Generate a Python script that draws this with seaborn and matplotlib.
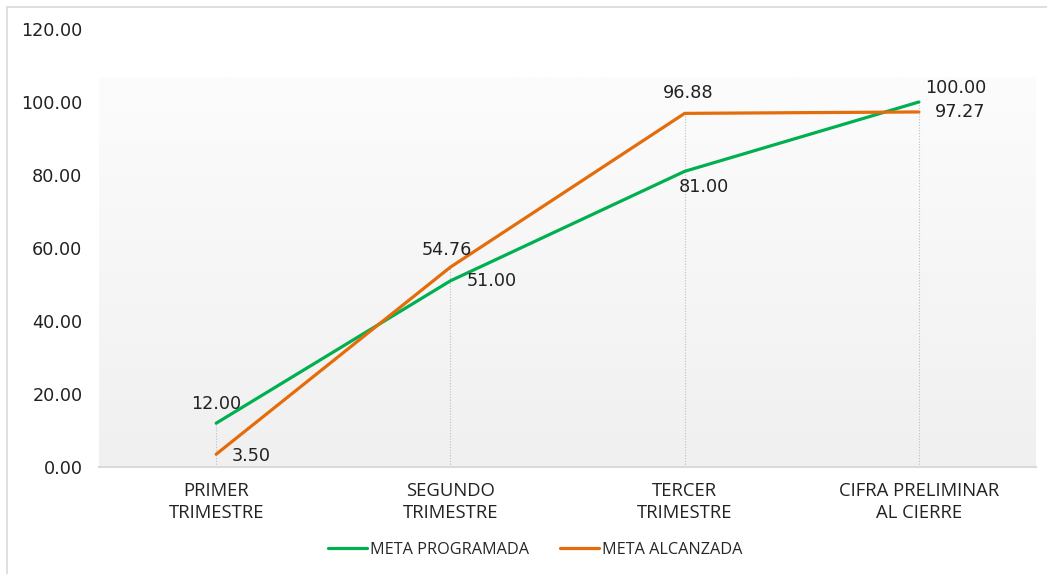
import numpy as np
import pandas as pd
import matplotlib
matplotlib.use("Agg")
import matplotlib.pyplot as plt
import seaborn as sns
from matplotlib.colors import LinearSegmentedColormap

# chart data
categories = ["PRIMER\nTRIMESTRE", "SEGUNDO\nTRIMESTRE", "TERCER\nTRIMESTRE", "CIFRA PRELIMINAR\nAL CIERRE"]
meta_programada = [12.00, 51.00, 81.00, 100.00]
meta_alcanzada = [3.50, 54.76, 96.88, 97.27]
series_names = ["META PROGRAMADA", "META ALCANZADA"]
y_ticks = [0, 20, 40, 60, 80, 100, 120]

GREEN = "#00B050"
ORANGE = "#E46C0A"
NUM_SIZE = 12.7

sns.set_style("white")
plt.rcParams["font.family"] = ["DejaVu Sans"]

df = pd.DataFrame({
    "x": list(range(len(categories))) * 2,
    "valor": meta_programada + meta_alcanzada,
    "serie": [series_names[0]] * len(categories) + [series_names[1]] * len(categories),
})

fig = plt.figure(figsize=(10.47, 5.74), dpi=100)
ax = fig.add_axes([0.0946, 0.1864, 0.8949, 0.7631])

# soft gradient behind the plot area
grad = np.linspace(0, 1, 256).reshape(-1, 1)
cmap = LinearSegmentedColormap.from_list("bg", ["#f0f0f0", "#fcfcfc"])
ax.imshow(grad, extent=[-0.5, len(categories) - 0.5, 0, 106.8], origin="lower",
          cmap=cmap, aspect="auto", zorder=0)

# drop lines from the highest point to the axis
tops = np.maximum(meta_programada, meta_alcanzada)
ax.vlines(range(len(categories)), 0, tops, colors="#bfbfbf", linestyles=(0, (1, 1.5)),
          linewidth=0.8, zorder=1)

sns.lineplot(data=df, x="x", y="valor", hue="serie", palette=[GREEN, ORANGE],
             linewidth=2.3, ax=ax, legend=False, zorder=3)

ax.set_xlim(-0.5, len(categories) - 0.5)
ax.set_ylim(0, 120)
ax.set_yticks(y_ticks)
ax.set_yticklabels([f"{v:.2f}" for v in y_ticks], fontsize=NUM_SIZE, color="#222222")
ax.set_xticks(range(len(categories)))
ax.set_xticklabels(categories, fontsize=13.3, color="#222222", family=["Open Sans", "DejaVu Sans"],
                   linespacing=1.3)
ax.tick_params(axis="y", length=0, pad=12)
ax.tick_params(axis="x", length=0, pad=11)
ax.set_xlabel("")
ax.set_ylabel("")
for s in ["top", "right", "left"]:
    ax.spines[s].set_visible(False)
ax.spines["bottom"].set_color("#d9d9d9")
ax.spines["bottom"].set_linewidth(1.5)
ax.spines["bottom"].set_zorder(4)

# data labels (pixel offsets from each point)
prog_offsets = [(0, 19), (41, 0), (19, -16), (37, 14)]
alc_offsets = [(35, -2), (-4, 17), (4, 20), (41, 0)]
for i in range(len(categories)):
    ax.annotate(f"{meta_programada[i]:.2f}", (i, meta_programada[i]),
                xytext=(prog_offsets[i][0] / 1.39, prog_offsets[i][1] / 1.39),
                textcoords="offset points", ha="center", va="center",
                fontsize=NUM_SIZE, color="#222222", zorder=5)
    ax.annotate(f"{meta_alcanzada[i]:.2f}", (i, meta_alcanzada[i]),
                xytext=(alc_offsets[i][0] / 1.39, alc_offsets[i][1] / 1.39),
                textcoords="offset points", ha="center", va="center",
                fontsize=NUM_SIZE, color="#222222", zorder=5)

# legend
handles = [plt.Line2D([], [], color=GREEN, lw=2.3), plt.Line2D([], [], color=ORANGE, lw=2.3)]
fig.legend(handles, series_names, loc="center", bbox_to_anchor=(535 / 1047, 1 - 550 / 574),
           ncol=2, frameon=False, handlelength=2.4, handletextpad=0.2, columnspacing=1.9,
           prop={"family": ["Open Sans", "DejaVu Sans"], "size": 11.7})

# chart border
fig.add_artist(plt.Line2D([7 / 1047, 7 / 1047], [0, 1 - 7 / 574], color="#d9d9d9", lw=1.2,
                          transform=fig.transFigure))
fig.add_artist(plt.Line2D([7 / 1047, 1], [1 - 7 / 574, 1 - 7 / 574], color="#d9d9d9", lw=1.2,
                          transform=fig.transFigure))

fig.savefig("out.png", dpi=100)
